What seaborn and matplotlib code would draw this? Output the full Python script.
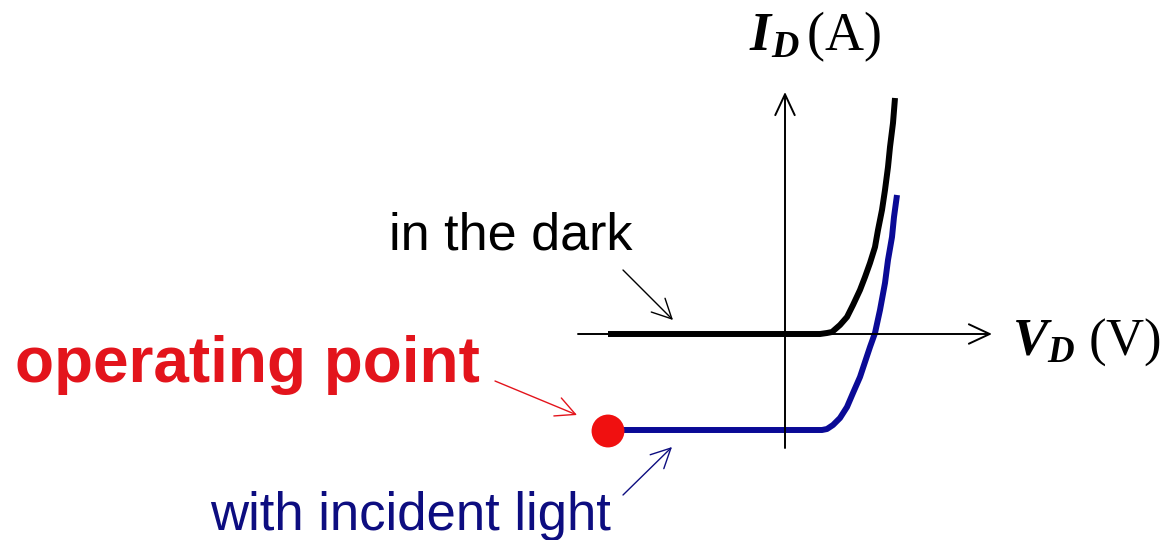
import pandas as pd
import matplotlib
matplotlib.use('Agg')
import matplotlib.pyplot as plt
import seaborn as sns

# I-V curves of the photodiode (1 unit = 100 px)
dark_v = [-1.77, 0.35, 0.42, 0.47, 0.55, 0.62, 0.68, 0.75, 0.80, 0.85, 0.90, 0.93, 0.97,
          1.00, 1.03, 1.05, 1.08, 1.10]
dark_i = [0.00, 0.00, 0.01, 0.02, 0.09, 0.17, 0.29, 0.44, 0.57, 0.71, 0.87, 1.04, 1.24,
          1.44, 1.67, 1.87, 2.11, 2.36]
light_v = [-1.77, 0.37, 0.42, 0.48, 0.55, 0.62, 0.68, 0.75, 0.80, 0.85, 0.90, 0.95, 1.00,
           1.03, 1.07, 1.09, 1.12]
light_i = [-0.96, -0.96, -0.95, -0.91, -0.84, -0.73, -0.59, -0.43, -0.28, -0.13, 0.01, 0.24,
           0.51, 0.74, 0.97, 1.17, 1.39]
op_v = [-1.77]
op_i = [-0.97]
v_axis = [-2.07, 2.07]
i_axis = [-1.14, 2.42]

curvas = pd.DataFrame({
    'V': dark_v + light_v,
    'I': dark_i + light_i,
    'serie': ['dark'] * len(dark_v) + ['light'] * len(light_v),
})
punto = pd.DataFrame({'V': op_v, 'I': op_i})

sns.set_style('white')
plt.rcParams['font.family'] = ['Liberation Sans', 'DejaVu Sans']
plt.rcParams['mathtext.fontset'] = 'custom'
plt.rcParams['mathtext.rm'] = 'Liberation Serif'
plt.rcParams['mathtext.it'] = 'Liberation Serif:italic'
plt.rcParams['mathtext.bf'] = 'Liberation Serif:bold'
plt.rcParams['mathtext.bfit'] = 'Liberation Serif:bold:italic'

fig = plt.figure(figsize=(11.73, 5.40), dpi=100)
ax = fig.add_axes([0, 0, 1, 1])

sns.lineplot(data=curvas, x='V', y='I', hue='serie', palette={'dark': 'black', 'light': '#0a0a96'},
             estimator=None, sort=False, linewidth=4.3, legend=False, ax=ax, zorder=2)
for l in ax.get_lines():
    l.set_solid_capstyle('butt')
    l.set_solid_joinstyle('round')

# ejes con flechas
flecha = dict(arrowstyle='->,head_length=0.75,head_width=0.35', color='black', lw=1.4,
              mutation_scale=20, shrinkA=0, shrinkB=0)
ax.annotate('', xy=(v_axis[1], 0), xytext=(v_axis[0], 0), arrowprops=flecha, zorder=3)
ax.annotate('', xy=(0, i_axis[1]), xytext=(0, i_axis[0]), arrowprops=flecha, zorder=3)

sns.scatterplot(data=punto, x='V', y='I', color='#f01010', s=560, edgecolor='none', ax=ax, zorder=4)

ax.text(-0.36, 2.84, r'$\mathbfit{I}_{\mathbfit{D}}\,(\mathrm{A})$', fontsize=39, color='black',
        ha='left', va='baseline')
ax.text(2.27, -0.21, r'$\mathbfit{V}_{\mathbfit{D}}\ (\mathrm{V})$', fontsize=38, color='black',
        ha='left', va='baseline')

ax.text(-3.96, 0.84, 'in the dark', fontsize=37.5, color='black', ha='left', va='baseline')
ax.text(-7.70, -0.48, 'operating point', fontsize=46, fontweight='bold', color='#e3141c',
        ha='left', va='baseline')
ax.text(-5.75, -1.96, 'with incident light', fontsize=38, color='#0d0d80', ha='left', va='baseline')

fina = dict(arrowstyle='->,head_length=0.7,head_width=0.35', lw=1.0, mutation_scale=20,
            shrinkA=0, shrinkB=0)
ax.annotate('', xy=(-1.12, 0.14), xytext=(-1.62, 0.64), arrowprops=dict(fina, color='black'))
ax.annotate('', xy=(-2.08, -0.81), xytext=(-2.90, -0.47), arrowprops=dict(fina, color='#e3141c'))
ax.annotate('', xy=(-1.13, -1.13), xytext=(-1.62, -1.61), arrowprops=dict(fina, color='#0d0d80'))

ax.set_xlim(-7.85, 3.88)
ax.set_ylim(-2.06, 3.34)
ax.axis('off')

fig.savefig('out.png', dpi=100)
